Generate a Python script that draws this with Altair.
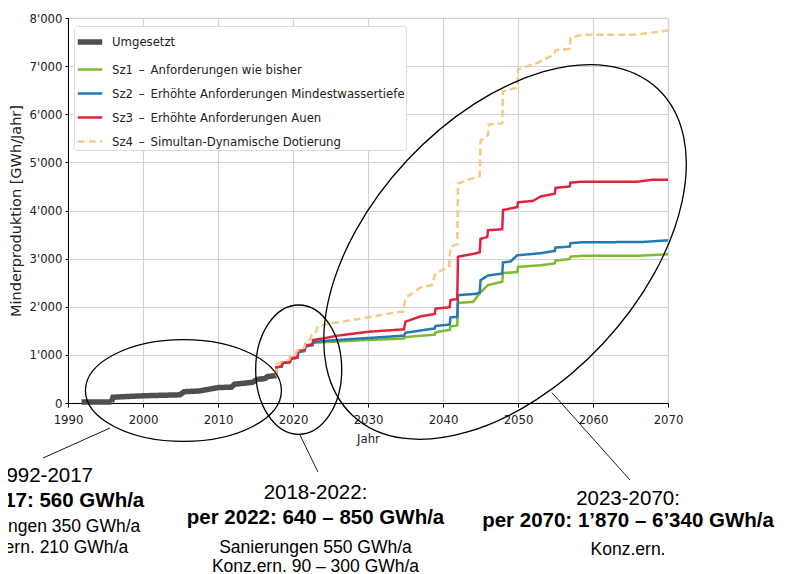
import altair as alt
import pandas as pd

# ---------------- data ----------------
names = [
    "Umgesetzt",
    "Sz1\u2002\u2013\u2002Anforderungen wie bisher",
    "Sz2\u2002\u2013\u2002Erhöhte Anforderungen Mindestwassertiefe",
    "Sz3\u2002\u2013\u2002Erhöhte Anforderungen Auen",
    "Sz4\u2002\u2013\u2002Simultan-Dynamische Dotierung",
]
colors = ["#4d4f51", "#7fba2f", "#2378b5", "#e3223d", "#f4ca84"]
dashes = [[1, 0], [1, 0], [1, 0], [1, 0], [7, 4]]
widths = [5.5, 2.5, 2.5, 2.5, 2.5]

umg_x = [1991.8, 1995.8, 1996.0, 2000, 2004.9, 2005.5, 2007.5, 2010, 2011.8, 2012.2, 2014.6, 2015.2, 2016.3, 2016.6, 2017.8]
umg_y = [20, 20, 120, 150, 170, 235, 250, 320, 330, 390, 430, 490, 510, 550, 570]

sz1_x = [2017.8, 2017.8, 2018.5, 2018.6, 2019.6, 2019.7, 2020.6, 2020.7, 2021.5, 2021.7, 2022.6, 2022.7, 2025, 2030, 2034.8, 2035, 2038.9, 2039, 2040.9, 2041, 2041.9, 2042, 2044, 2045, 2046, 2047.9, 2048, 2049.9, 2050, 2052.9, 2054.9, 2055, 2056.9, 2057, 2058.7, 2066.2, 2070]
sz1_y = [570, 740, 760, 830, 850, 920, 940, 1060, 1080, 1180, 1200, 1250, 1270, 1310, 1340, 1370, 1420, 1470, 1520, 1590, 1610, 2080, 2100, 2300, 2450, 2520, 2700, 2720, 2830, 2860, 2900, 2960, 2990, 3040, 3060, 3060, 3090]

sz2_x = [2017.8, 2017.8, 2018.5, 2018.6, 2019.6, 2019.7, 2020.6, 2020.7, 2021.5, 2021.7, 2022.6, 2022.7, 2025, 2030, 2034.8, 2035, 2038.9, 2039, 2040.9, 2041, 2041.9, 2042, 2044.5, 2044.9, 2045, 2046, 2047.9, 2048, 2049, 2049.9, 2052.9, 2054.9, 2055, 2056.9, 2057, 2058.5, 2066.5, 2070]
sz2_y = [570, 740, 760, 830, 850, 920, 940, 1060, 1080, 1180, 1200, 1270, 1300, 1350, 1400, 1460, 1550, 1600, 1630, 1780, 1790, 2240, 2270, 2300, 2550, 2650, 2690, 2920, 2940, 3070, 3110, 3160, 3230, 3250, 3320, 3340, 3345, 3380]

sz3_x = [2017.8, 2017.8, 2018.5, 2018.6, 2019.6, 2019.7, 2020.6, 2020.7, 2021.5, 2021.7, 2022.6, 2022.7, 2024, 2026, 2030, 2034.8, 2035, 2037, 2038.9, 2039, 2040.9, 2041, 2041.9, 2042, 2044.1, 2044.9, 2045, 2045.9, 2046, 2047.9, 2048, 2049.9, 2050, 2052, 2053, 2054.9, 2055, 2056.9, 2057, 2058.7, 2066, 2068, 2070]
sz3_y = [570, 740, 760, 830, 850, 930, 950, 1080, 1100, 1200, 1220, 1310, 1340, 1400, 1480, 1530, 1690, 1800, 1850, 1960, 1990, 2140, 2160, 3040, 3100, 3130, 3410, 3450, 3590, 3610, 4010, 4070, 4170, 4200, 4290, 4350, 4470, 4500, 4580, 4600, 4600, 4640, 4640]

sz4_x = [2017.8, 2017.8, 2018.5, 2019.5, 2019.6, 2020.3, 2020.5, 2021.5, 2021.7, 2022.3, 2022.5, 2023.0, 2023.3, 2025, 2030, 2034, 2034.7, 2035, 2037, 2038.5, 2039, 2040.8, 2041, 2041.9, 2042, 2044.5, 2044.9, 2045, 2046, 2046.1, 2047.9, 2048, 2049.9, 2050, 2052.6, 2054.8, 2055, 2056.9, 2057, 2058.5, 2065.7, 2070]
sz4_y = [570, 800, 860, 900, 960, 1000, 1080, 1150, 1280, 1330, 1420, 1450, 1600, 1650, 1780, 1890, 1900, 2180, 2400, 2450, 2700, 2820, 3250, 3300, 4560, 4700, 4720, 5450, 5560, 5790, 5810, 6480, 6550, 6930, 7069, 7240, 7330, 7360, 7590, 7650, 7655, 7740]

series_x = [umg_x, sz1_x, sz2_x, sz3_x, sz4_x]
series_y = [umg_y, sz1_y, sz2_y, sz3_y, sz4_y]

x_ticks = [1990, 2000, 2010, 2020, 2030, 2040, 2050, 2060, 2070]
y_ticks = [0, 1000, 2000, 3000, 4000, 5000, 6000, 7000, 8000]

# annotation ellipses (centre in data units, shape, size, rotation)
ell_year = [2005.39, 2020.76, 2048.27]
ell_value = [260, 692, 3138]
ell_path = [
    "M -1 0 A 1 0.52 0 1 0 1 0 A 1 0.52 0 1 0 -1 0 Z",
    "M -0.665 0 A 0.665 1 0 1 0 0.665 0 A 0.665 1 0 1 0 -0.665 0 Z",
    "M -1 0 A 1 0.6 0 1 0 1 0 A 1 0.6 0 1 0 -1 0 Z",
]
ell_size = [38416, 16744, 199809]
ell_angle = [0, 0, 313]

# callout lines
call_year = [1995.6, 2020.93, 2054.53]
call_value = [-520, -665, 214]
call_year2 = [1986.67, 2023.33, 2064.93]
call_value2 = [-1143, -1434, -1600]

# annotation texts
head_text = ["1992-2017", "2018-2022:", "2023-2070:"]
head_year = [1986.8, 2023.0, 2064.67]
head_value = [-1527, -1860, -1995]

bold_text = ["per 2017: 560 GWh/a", "per 2022: 640 \u2013 850 GWh/a", "per 2070: 1\u2019870 \u2013 6\u2019340 GWh/a"]
bold_year = [1986.8, 2023.0, 2064.67]
bold_value = [-2026, -2390, -2452]

sub_text = ["Sanierungen 350 GWh/a", "Konz.ern. 210 GWh/a", "Sanierungen 550 GWh/a",
            "Konz.ern. 90 \u2013 300 GWh/a", "Konz.ern."]
sub_year = [1986.8, 1986.8, 2023.0, 2023.0, 2064.67]
sub_value = [-2570, -3023, -3013, -3418, -3055]

# ---------------- build tables ----------------
rows = []
for name, xs, ys in zip(names, series_x, series_y):
    for i, (xv, yv) in enumerate(zip(xs, ys)):
        rows.append({"series": name, "year": xv, "value": yv, "idx": i})
df = pd.DataFrame(rows)

ell_df = pd.DataFrame({"year": ell_year, "value": ell_value, "path": ell_path,
                       "size": ell_size, "angle": ell_angle})
call_df = pd.DataFrame({"year": call_year, "value": call_value,
                        "year2": call_year2, "value2": call_value2})
head_df = pd.DataFrame({"year": head_year, "value": head_value, "text": head_text})
bold_df = pd.DataFrame({"year": bold_year, "value": bold_value, "text": bold_text})
sub_df = pd.DataFrame({"year": sub_year, "value": sub_value, "text": sub_text})

FONT = "'DejaVu Sans Condensed', 'Liberation Sans Narrow', 'DejaVu Sans'"
AFONT = "Liberation Sans"

xscale = alt.Scale(domain=[1990, 2070], nice=False, zero=False)
yscale = alt.Scale(domain=[0, 8000], nice=False, zero=False)

xaxis = alt.Axis(values=x_ticks, format="d", title="Jahr", labelFont=FONT, labelFontSize=13,
                 labelColor="#222222", titleFont=FONT, titleFontSize=13, titleFontWeight="normal",
                 titleColor="#222222", tickSize=4, tickColor="black", domainColor="black",
                 labelPadding=6, titlePadding=6, gridColor="#d2d2d2", gridWidth=1.2, labelFlush=False)
yaxis = alt.Axis(values=y_ticks, title="Minderproduktion [GWh/Jahr]",
                 labelExpr="replace(format(datum.value, ','), ',', \"'\")",
                 labelFont=FONT, labelFontSize=13, labelColor="#222222",
                 titleFont="DejaVu Sans", titleFontSize=14.5, titleFontWeight="normal",
                 titleColor="#222222", tickSize=3, tickColor="black", domainColor="black",
                 labelPadding=3, titlePadding=6, gridColor="#d2d2d2", gridWidth=1.2)

legend = alt.Legend(title=None, orient="none", legendX=6, legendY=8, direction="vertical",
                    labelFont=FONT, labelFontSize=13, labelColor="#222222", labelLimit=500,
                    symbolType="stroke", symbolSize=600, labelOffset=7,
                    rowPadding=3.0, padding=1, strokeColor="#dcdcdc", fillColor="white",
                    cornerRadius=3)

lines = alt.Chart(df).mark_line(strokeCap="butt").encode(
    x=alt.X("year:Q", scale=xscale, axis=xaxis),
    y=alt.Y("value:Q", scale=yscale, axis=yaxis),
    color=alt.Color("series:N", scale=alt.Scale(domain=names, range=colors), legend=legend),
    strokeDash=alt.StrokeDash("series:N", scale=alt.Scale(domain=names, range=dashes), legend=legend),
    strokeWidth=alt.StrokeWidth("series:N",
                                scale=alt.Scale(type="ordinal", domain=names, range=widths),
                                legend=legend),
    order="idx:Q",
)

ellipses = alt.Chart(ell_df).mark_point(filled=False, color="black", strokeWidth=1.3, opacity=1).encode(
    x=alt.X("year:Q"), y=alt.Y("value:Q"),
    shape=alt.Shape("path:N", scale=None),
    size=alt.Size("size:Q", scale=None),
    angle=alt.Angle("angle:Q", scale=None),
)

callouts = alt.Chart(call_df).mark_rule(color="black", strokeWidth=0.9).encode(
    x="year:Q", y="value:Q", x2="year2:Q", y2="value2:Q")

heads = alt.Chart(head_df).mark_text(font=AFONT, fontSize=20.5, align="center", baseline="middle",
                                     color="black").encode(x="year:Q", y="value:Q", text="text:N")
bolds = alt.Chart(bold_df).mark_text(font=AFONT, fontSize=20.5, fontWeight="bold", align="center",
                                     baseline="middle", color="black").encode(
    x="year:Q", y="value:Q", text="text:N")
subs = alt.Chart(sub_df).mark_text(font=AFONT, fontSize=17.5, align="center", baseline="middle",
                                   color="black").encode(x="year:Q", y="value:Q", text="text:N")

chart = alt.layer(lines, ellipses, callouts, heads, bolds, subs).properties(
    width=600, height=385,
    padding={"left": 60, "top": 10, "right": 109, "bottom": 171},
    autosize=alt.AutoSizeParams(type="none"),
).configure_view(stroke="#d4d4d4", strokeWidth=1.2)

chart.save("out.html", embed_options={"renderer": "svg", "actions": False})
